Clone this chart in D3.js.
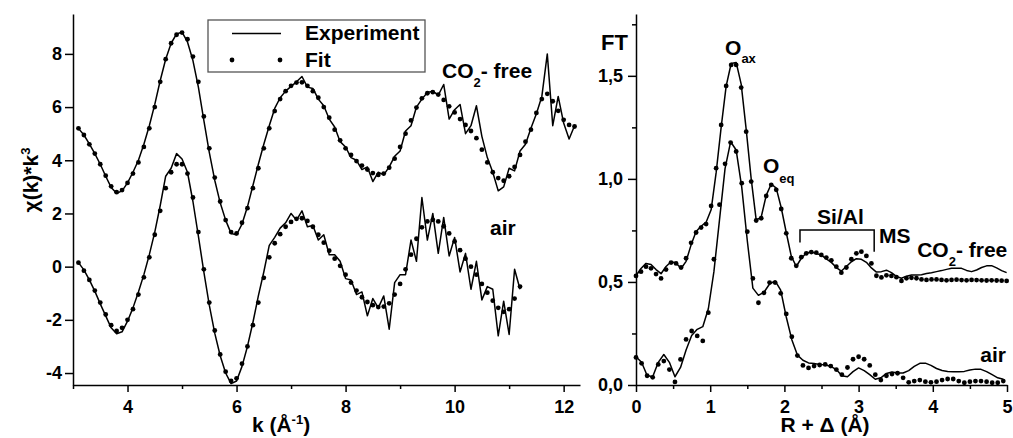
<!DOCTYPE html>
<html lang="en">
<head>
<meta charset="UTF-8">
<title>EXAFS chi(k) and Fourier transform</title>
<script src="https://d3js.org/d3.v7.min.js"></script>
<style>
  body { margin: 0; background: #fff; }
  svg { display: block; font-family: Arial, "Liberation Sans", sans-serif; font-weight: bold; }
  .axis path, .axis line { stroke: #000; stroke-width: 1.5px; }
  .axis text { font-size: 18px; font-weight: bold; fill: #000; font-family: Arial, "Liberation Sans", sans-serif; }
  .exp { fill: none; stroke: #000; stroke-width: 1.5px; stroke-linejoin: round; }
  .fit { fill: #000; }
  .lbl { font-size: 21px; fill: #000; }
</style>
</head>
<body>
<svg width="1013" height="438"></svg>
<script>
// left panel: chi(k)*k^3, sampled every 0.1 from k = 3.1
const kStart = 3.1, kStep = 0.1;
const chiCO2Exp = [5.2,4.95,4.62,4.25,3.85,3.4,2.98,2.76,2.85,3.15,
  3.55,4.0,4.6,5.3,6.1,7.0,7.8,8.4,8.75,8.82,
  8.45,7.75,6.75,5.5,4.3,3.25,2.4,1.75,1.25,1.2,
  1.6,2.25,3.05,3.85,4.6,5.3,5.95,6.35,6.6,6.78,
  6.95,7.15,6.75,6.7,6.3,6.05,5.55,5.25,4.7,4.5,
  4.1,4.0,3.65,3.75,3.2,3.55,3.45,3.75,4.15,4.35,
  5.1,5.3,6.0,6.3,6.55,6.6,6.45,6.85,5.55,5.9,
  6.1,5.0,5.3,6.05,4.9,4.1,3.55,2.85,3.0,3.7,
  3.6,4.35,4.6,5.2,5.75,6.4,8.0,5.3,6.4,5.4,
  4.8,5.3];
const chiCO2Fit = [5.2,4.95,4.6,4.25,3.85,3.42,3.02,2.8,2.88,3.15,
  3.5,3.92,4.5,5.2,6.0,6.95,7.8,8.4,8.72,8.8,
  8.55,7.9,6.95,5.65,4.45,3.35,2.45,1.75,1.3,1.25,
  1.65,2.2,2.95,3.7,4.45,5.2,5.85,6.3,6.6,6.8,
  6.92,6.93,6.8,6.6,6.35,6.0,5.6,5.15,4.75,4.45,
  4.2,3.97,3.8,3.65,3.52,3.45,3.5,3.72,4.06,4.5,
  5.0,5.5,5.98,6.33,6.52,6.56,6.47,6.27,6.03,5.8,
  5.55,5.33,5.1,4.83,4.4,3.92,3.55,3.33,3.23,3.4,
  3.75,4.2,4.7,5.15,5.78,6.3,6.5,6.22,5.86,5.52,
  5.33,5.27];
const chiAirExp = [0.15,-0.12,-0.5,-0.92,-1.4,-1.85,-2.3,-2.52,-2.45,-2.05,
  -1.55,-0.95,-0.3,0.45,1.3,2.3,3.4,3.7,4.25,4.05,
  3.55,2.45,1.15,-0.2,-1.45,-2.5,-3.35,-4.0,-4.4,-4.3,
  -3.75,-3.0,-2.1,-1.1,-0.2,0.8,1.1,1.45,1.65,2.0,
  1.75,2.1,1.5,1.55,1.0,1.2,0.45,0.45,0.2,-0.45,
  -0.5,-1.05,-0.95,-1.85,-1.2,-1.55,-1.1,-2.35,-0.6,-0.3,
  -0.3,1.0,0.2,2.6,1.0,2.0,0.5,1.85,0.4,1.1,
  -0.2,0.5,-0.85,0.2,-1.25,-0.75,-0.85,-2.6,-1.3,-2.55,
  -0.1,-0.85];
const chiAirFit = [0.15,-0.15,-0.5,-0.9,-1.35,-1.8,-2.2,-2.42,-2.3,-2.0,
  -1.6,-1.05,-0.4,0.35,1.2,2.1,2.95,3.55,3.85,3.85,
  3.5,2.6,1.3,-0.1,-1.35,-2.4,-3.3,-3.95,-4.3,-4.2,
  -3.65,-3.0,-2.2,-1.35,-0.42,0.35,0.88,1.22,1.5,1.68,
  1.8,1.82,1.72,1.5,1.2,0.9,0.6,0.3,0.03,-0.3,
  -0.6,-0.9,-1.15,-1.33,-1.45,-1.52,-1.5,-1.38,-1.05,-0.65,
  -0.1,0.45,1.05,1.48,1.7,1.76,1.7,1.52,1.25,0.95,
  0.62,0.3,0.0,-0.3,-0.65,-0.98,-1.28,-1.55,-1.7,-1.6,
  -1.2,-0.75];

// right panel: FT magnitude
const rStepCO2 = 0.0675, rStepAir = 0.075;
const ftCO2Exp = [0.53,0.565,0.59,0.585,0.56,0.54,0.575,0.598,0.592,0.565,
  0.6,0.68,0.745,0.77,0.79,0.85,1.03,1.25,1.45,1.56,
  1.565,1.46,1.24,1.0,0.80,0.815,0.92,0.975,0.955,0.86,
  0.74,0.625,0.575,0.615,0.64,0.645,0.638,0.63,0.612,0.595,
  0.57,0.553,0.575,0.598,0.613,0.61,0.595,0.568,0.548,0.55,
  0.557,0.545,0.527,0.518,0.528,0.534,0.534,0.535,0.541,0.545,
  0.55,0.555,0.561,0.566,0.567,0.566,0.556,0.55,0.558,0.57,
  0.578,0.579,0.568,0.555,0.545];
const ftCO2Fit = [0.529,0.55,0.574,0.566,0.538,0.517,0.56,0.594,0.59,0.57,
  0.615,0.69,0.74,0.764,0.781,0.869,1.052,1.262,1.451,1.553,
  1.553,1.443,1.229,0.987,0.798,0.809,0.917,0.971,0.947,0.854,
  0.736,0.615,0.578,0.62,0.639,0.645,0.642,0.631,0.618,0.605,
  0.574,0.545,0.57,0.61,0.639,0.647,0.626,0.59,0.53,0.522,
  0.532,0.529,0.523,0.505,0.518,0.52,0.518,0.512,0.51,0.512,
  0.512,0.51,0.508,0.51,0.511,0.509,0.508,0.51,0.509,0.508,
  0.507,0.508,0.507,0.506,0.505];
const ftAirExp = [0.137,0.11,0.046,0.04,0.11,0.148,0.11,0.04,0.085,0.17,
  0.24,0.27,0.283,0.37,0.55,0.80,1.05,1.18,1.14,0.96,
  0.70,0.47,0.435,0.45,0.49,0.505,0.46,0.33,0.22,0.145,
  0.12,0.107,0.104,0.1,0.098,0.09,0.075,0.045,0.04,0.065,
  0.083,0.07,0.05,0.028,0.035,0.056,0.063,0.058,0.058,0.07,
  0.09,0.105,0.106,0.095,0.08,0.07,0.065,0.064,0.064,0.066,
  0.073,0.077,0.076,0.065,0.05,0.035,0.028];
const ftAirFit = [0.134,0.105,0.045,0.037,0.1,0.116,0.075,0.015,0.124,0.221,
  0.262,0.238,0.214,0.351,0.61,0.875,1.073,1.176,1.133,0.979,
  0.744,0.517,0.399,0.447,0.497,0.497,0.445,0.345,0.234,0.143,
  0.095,0.083,0.092,0.097,0.1,0.092,0.075,0.05,0.085,0.125,
  0.137,0.125,0.095,0.05,0.024,0.045,0.053,0.057,0.035,0.013,
  0.019,0.024,0.016,0.013,0.016,0.024,0.029,0.029,0.019,0.011,
  0.016,0.019,0.019,0.016,0.011,0.011,0.019];

const kTicks = [4, 6, 8, 10, 12], kMinor = [3, 5, 7, 9, 11];
const chiTicks = [-4, -2, 0, 2, 4, 6, 8];
const rTicks = [0, 1, 2, 3, 4, 5], rMinor = [0.5, 1.5, 2.5, 3.5, 4.5];
const ftTicks = [0, 0.5, 1.0, 1.5], ftMinor = [0.25, 0.75, 1.25, 1.75];

const svg = d3.select("svg");

const xL = d3.scaleLinear().domain([3, 12.3]).range([73, 580]);
const yL = d3.scaleLinear().domain([-4.45, 9.5]).range([385, 14]);
const xR = d3.scaleLinear().domain([0, 5]).range([636, 1007]);
const yR = d3.scaleLinear().domain([0, 1.8]).range([385, 14]);

const toPts = (vals, x0, step) => vals.map((v, i) => [x0 + i * step, v]);

function drawAxes(x, y, xt, xm, yt, ym, yfmt, ypad) {
  const bx = y.range()[0], lx = x.range()[0];
  svg.append("g").attr("class", "axis").attr("transform", `translate(0,${bx})`)
    .call(d3.axisBottom(x).tickValues(xt).tickSize(7).tickSizeOuter(0).tickPadding(8)
      .tickFormat(d3.format("d")));
  svg.append("g").attr("class", "axis").attr("transform", `translate(0,${bx})`)
    .call(d3.axisBottom(x).tickValues(xm).tickSize(4).tickFormat(""))
    .select(".domain").remove();
  svg.append("g").attr("class", "axis").attr("transform", `translate(${lx},0)`)
    .call(d3.axisLeft(y).tickValues(yt).tickSize(8).tickSizeOuter(0).tickPadding(ypad).tickFormat(yfmt));
  if (ym.length) {
    svg.append("g").attr("class", "axis").attr("transform", `translate(${lx},0)`)
      .call(d3.axisLeft(y).tickValues(ym).tickSize(4).tickFormat(""))
      .select(".domain").remove();
  }
}

function drawSeries(x, y, pts, asLine) {
  if (asLine) {
    svg.append("path").attr("class", "exp")
      .attr("d", d3.line().x(d => x(d[0])).y(d => y(d[1]))(pts));
  } else {
    svg.append("g").selectAll("circle").data(pts).join("circle")
      .attr("class", "fit").attr("r", 2.4)
      .attr("cx", d => x(d[0])).attr("cy", d => y(d[1]));
  }
}

// ---- left panel ----
drawAxes(xL, yL, kTicks, kMinor, chiTicks, [], d => d, 3);
drawSeries(xL, yL, toPts(chiCO2Exp, kStart, kStep), true);
drawSeries(xL, yL, toPts(chiCO2Fit, kStart, kStep), false);
drawSeries(xL, yL, toPts(chiAirExp, kStart, kStep), true);
drawSeries(xL, yL, toPts(chiAirFit, kStart, kStep), false);

// ---- right panel ----
drawAxes(xR, yR, rTicks, rMinor, ftTicks, ftMinor, d => d3.format(".1f")(d).replace(".", ","), 5);
drawSeries(xR, yR, toPts(ftCO2Exp, 0, rStepCO2), true);
drawSeries(xR, yR, toPts(ftCO2Fit, 0, rStepCO2), false);
drawSeries(xR, yR, toPts(ftAirExp, 0, rStepAir), true);
drawSeries(xR, yR, toPts(ftAirFit, 0, rStepAir), false);

// legend
const lg = svg.append("g");
lg.append("rect").attr("x", 208).attr("y", 20).attr("width", 217).attr("height", 52)
  .attr("fill", "#fff").attr("stroke", "#555").attr("stroke-width", 1.3);
lg.append("line").attr("x1", 232).attr("x2", 281).attr("y1", 33.5).attr("y2", 33.5)
  .attr("stroke", "#000").attr("stroke-width", 1.5);
lg.selectAll("circle").data([232, 280]).join("circle")
  .attr("cx", d => d).attr("cy", 60).attr("r", 2.4).attr("fill", "#000");
lg.append("text").attr("class", "lbl").attr("x", 305).attr("y", 40).text("Experiment");
lg.append("text").attr("class", "lbl").attr("x", 305).attr("y", 66.5).text("Fit");

// helper for text with a lowered / raised part
function label(x, y, parts) {
  const t = svg.append("text").attr("class", "lbl").attr("x", x).attr("y", y);
  parts.forEach(p => {
    const s = t.append("tspan").text(p.t);
    if (p.dy) s.attr("dy", p.dy);
    if (p.fs) s.style("font-size", p.fs + "px");
  });
  return t;
}

// left panel annotations
label(xL(9.77), yL(7.09), [{t: "CO"}, {t: "2", dy: 9, fs: 13}, {t: "- free", dy: -9}]);
label(xL(10.65), yL(1.19), [{t: "air"}]);
label(281, 432, [{t: "k (Å"}, {t: "-1", dy: -8, fs: 13}, {t: ")", dy: 8}]).attr("text-anchor", "middle");
svg.append("text").attr("class", "lbl")
  .attr("transform", "translate(38,180) rotate(-90)").attr("text-anchor", "middle")
  .call(t => {
    t.append("tspan").text("χ(k)*k");
    t.append("tspan").text("3").attr("dy", -8).style("font-size", "13px");
  });

// right panel annotations
label(601, 50, [{t: "FT"}]).style("font-size", "22px");
label(xR(1.2), yR(1.601), [{t: "O"}, {t: "ax", dy: 8, fs: 13}]);
label(xR(1.71), yR(1.027), [{t: "O"}, {t: "eq", dy: 10, fs: 13}]);
label(xR(2.44), yR(0.781), [{t: "Si/Al"}]);
svg.append("path").attr("fill", "none").attr("stroke", "#000").attr("stroke-width", 1.5)
  .attr("d", d3.line()([[xR(2.21), yR(0.691)], [xR(2.21), yR(0.752)], [xR(3.21), yR(0.752)], [xR(3.21), yR(0.647)]]));
label(xR(3.275), yR(0.688), [{t: "MS"}]);
label(xR(3.79), yR(0.619), [{t: "CO"}, {t: "2", dy: 9, fs: 13}, {t: "- free", dy: -9}]);
label(xR(4.64), yR(0.114), [{t: "air"}]);
label(825, 432, [{t: "R + Δ (Å)"}]).attr("text-anchor", "middle");
</script>
</body>
</html>
